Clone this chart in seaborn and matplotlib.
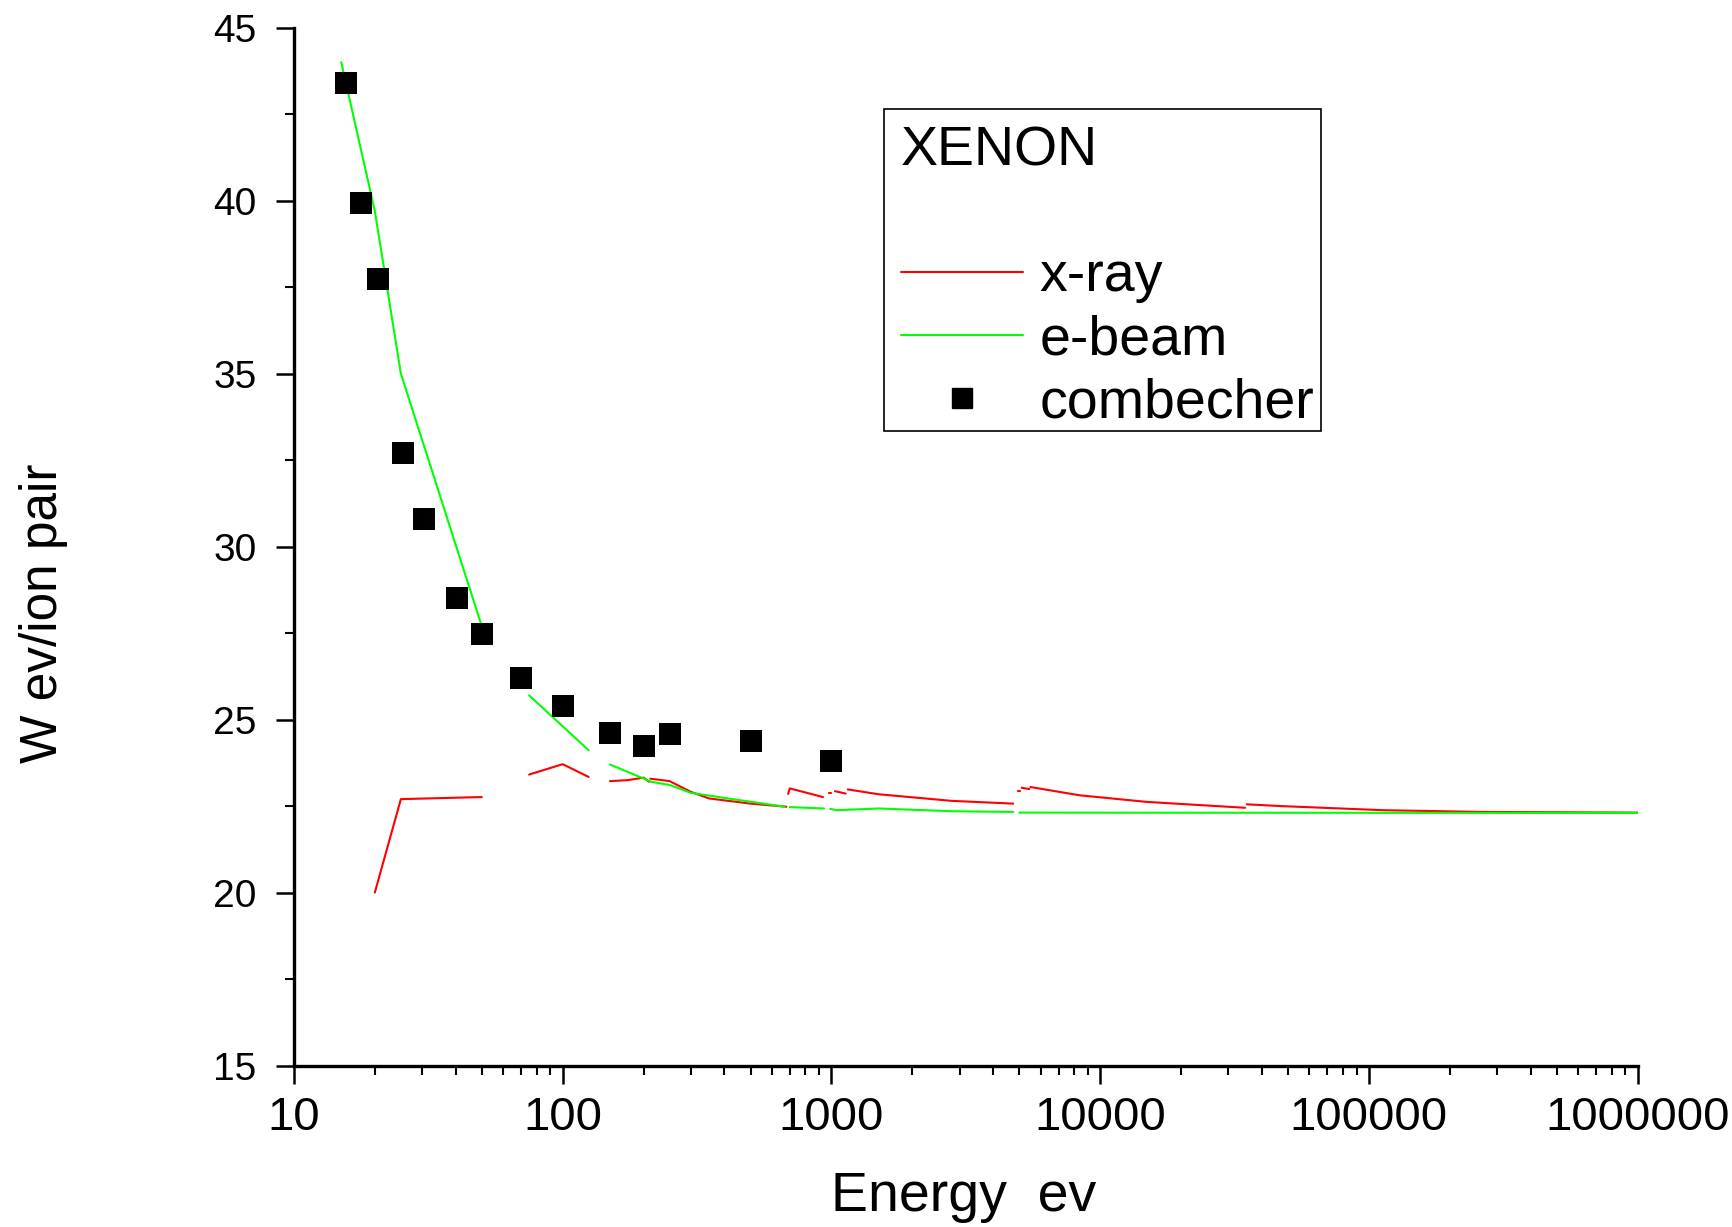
import matplotlib
matplotlib.use("Agg")
import matplotlib.pyplot as plt
from matplotlib.lines import Line2D
from matplotlib.patches import Rectangle
from matplotlib.ticker import FixedLocator, FixedFormatter, LogLocator, NullFormatter
import seaborn as sns
import pandas as pd

# x-ray curve (segments are separate pieces of the drawn line)
xray_energy = [20, 25, 50,
               75, 100, 125,
               150, 175, 200, 210,
               212, 250, 300, 350, 500, 680,
               690, 700, 930,
               980, 1000,
               1030, 1130,
               1150, 1500, 2800, 4750,
               4950, 5050,
               5100, 5450,
               5500, 8400, 14900, 34600,
               35100, 46700, 113000, 266700, 1000000]
xray_w = [20.0, 22.70, 22.76,
          23.41, 23.71, 23.34,
          23.22, 23.25, 23.32, 23.20,
          23.29, 23.22, 22.91, 22.72, 22.57, 22.48,
          22.85, 23.01, 22.76,
          22.89, 22.89,
          22.93, 22.86,
          22.98, 22.84, 22.65, 22.57,
          22.94, 22.94,
          23.03, 22.99,
          23.05, 22.81, 22.62, 22.45,
          22.55, 22.50, 22.38, 22.33, 22.31]
xray_seg = [0, 0, 0,
            1, 1, 1,
            2, 2, 2, 2,
            3, 3, 3, 3, 3, 3,
            4, 4, 4,
            5, 5,
            6, 6,
            7, 7, 7, 7,
            8, 8,
            9, 9,
            10, 10, 10, 10,
            11, 11, 11, 11, 11]

# e-beam curve
ebeam_energy = [15, 20, 25, 50,
                75, 125,
                150, 214, 250, 300, 456, 670,
                700, 940,
                990, 1050, 1500, 2800, 4750,
                5000, 1000000]
ebeam_w = [44.0, 39.7, 35.0, 27.7,
           25.70, 24.11,
           23.70, 23.20, 23.11, 22.88, 22.67, 22.48,
           22.47, 22.43,
           22.42, 22.38, 22.43, 22.35, 22.33,
           22.31, 22.30]
ebeam_seg = [0, 0, 0, 0,
             1, 1,
             2, 2, 2, 2, 2, 2,
             3, 3,
             4, 4, 4, 4, 4,
             5, 5]

# combecher measurements
comb_energy = [15.6, 17.7, 20.5, 25.5, 30.5, 40.6, 50, 70, 100, 150, 200, 250, 500, 1000]
comb_w = [43.40, 39.92, 37.72, 32.70, 30.81, 28.51, 27.46, 26.21, 25.38, 24.62, 24.23, 24.58, 24.39, 23.79]

sns.set_style("ticks")
plt.rcParams['font.family'] = ['Liberation Sans', 'DejaVu Sans']
plt.rcParams['text.color'] = 'black'
plt.rcParams['axes.labelcolor'] = 'black'
plt.rcParams['xtick.color'] = 'black'
plt.rcParams['ytick.color'] = 'black'

xray_df = pd.DataFrame({"energy": xray_energy, "w": xray_w, "seg": xray_seg})
ebeam_df = pd.DataFrame({"energy": ebeam_energy, "w": ebeam_w, "seg": ebeam_seg})
comb_df = pd.DataFrame({"energy": comb_energy, "w": comb_w})

fig = plt.figure(figsize=(17.33, 12.27), dpi=100)
ax = fig.add_axes([0.1696, 0.1316, 0.7754, 0.8459])

sns.lineplot(data=xray_df, x="energy", y="w", units="seg", estimator=None,
             color="#ff0000", lw=1.5, ax=ax, legend=False, sort=False)
sns.lineplot(data=ebeam_df, x="energy", y="w", units="seg", estimator=None,
             color="#00ff00", lw=1.5, ax=ax, legend=False, sort=False)
sns.scatterplot(data=comb_df, x="energy", y="w", marker="s", s=250,
                color="black", edgecolor="none", ax=ax, legend=False, zorder=5)

ax.set_xscale("log")
ax.set_xlim(10, 1000000)
ax.set_ylim(15, 45)

xt = [10, 100, 1000, 10000, 100000, 1000000]
ax.xaxis.set_major_locator(FixedLocator(xt))
ax.xaxis.set_major_formatter(FixedFormatter([str(v) for v in xt]))
ax.xaxis.set_minor_locator(LogLocator(base=10, subs=range(2, 10), numticks=20))
ax.xaxis.set_minor_formatter(NullFormatter())
ax.set_yticks([15, 20, 25, 30, 35, 40, 45])
ax.set_yticks([17.5, 22.5, 27.5, 32.5, 37.5, 42.5], minor=True)

for side in ["top", "right"]:
    ax.spines[side].set_visible(False)
for side in ["left", "bottom"]:
    ax.spines[side].set_linewidth(2.4)
    ax.spines[side].set_color("black")

ax.tick_params(axis="both", which="major", direction="out", length=13, width=1.8, color="black")
ax.tick_params(axis="both", which="minor", direction="out", length=6.5, width=1.5, color="black")
ax.tick_params(axis="x", which="major", pad=9, labelsize=34, labelcolor="black")
ax.tick_params(axis="y", which="major", pad=14, labelsize=28, labelcolor="black")

ax.set_xlabel("")
ax.set_ylabel("")
fig.text(0.556, 0.0245, "Energy  ev", fontsize=40, ha="center", va="center")
fig.text(0.025, 0.5, "W ev/ion pair", fontsize=37, rotation=90,
         ha="center", va="center")

# legend: content placed without frame, box drawn separately (Origin-style padding)
handles = [Line2D([], [], color="#ff0000", lw=1.5),
           Line2D([], [], color="#00ff00", lw=1.5),
           Line2D([], [], color="black", marker="s", markersize=15, ls="none")]
leg = ax.legend(handles, ["x-ray", "e-beam", "combecher"], title="XENON\n",
                loc="upper left", bbox_to_anchor=(0.5149, 0.9048),
                bbox_transform=fig.transFigure, borderaxespad=0,
                fontsize=40, title_fontsize=40, alignment="left",
                frameon=False, handlelength=2.2, handletextpad=0.3,
                labelspacing=0.2, borderpad=0.15)
leg.get_title().set_linespacing(1.28)
fig.patches.append(Rectangle((884 / 1733, 1 - 431 / 1227), 437 / 1733, 322 / 1227,
                             transform=fig.transFigure, fill=False,
                             edgecolor="black", lw=1.2))

fig.savefig("out.png", dpi=100)
